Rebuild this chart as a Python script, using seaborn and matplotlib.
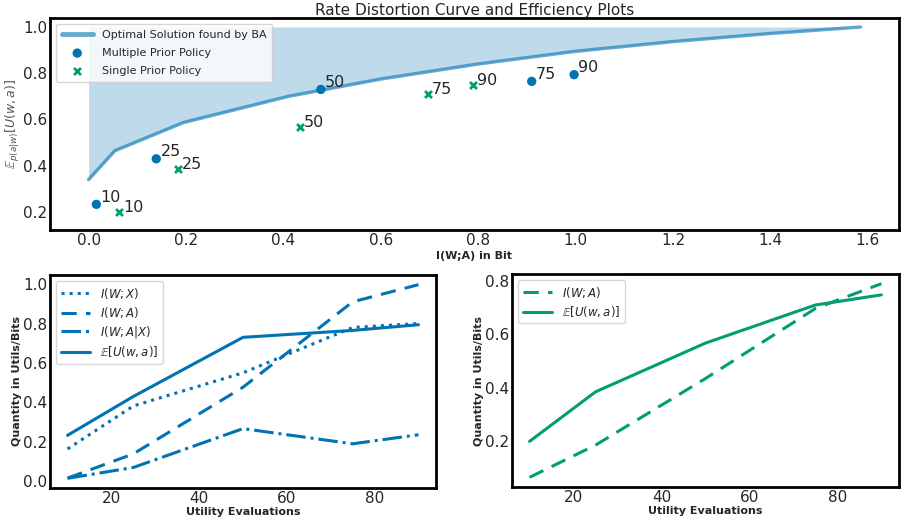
import numpy as np
import pandas as pd
import matplotlib
matplotlib.use("Agg")
import matplotlib.pyplot as plt
import seaborn as sns

# Data
ba_rate = [0.0, 0.054, 0.195, 0.41, 0.6, 0.8, 1.0, 1.2, 1.4, 1.585]
ba_util = [0.34, 0.465, 0.587, 0.70, 0.775, 0.84, 0.895, 0.937, 0.972, 1.0]

evals = [10, 25, 50, 75, 90]

# multiple prior policy
mp_iwa = [0.016, 0.139, 0.477, 0.910, 0.997]
mp_util = [0.233, 0.430, 0.730, 0.765, 0.794]
mp_iwx = [0.164, 0.382, 0.550, 0.780, 0.800]
mp_iwax = [0.015, 0.070, 0.267, 0.190, 0.236]

# single prior policy
sp_iwa = [0.063, 0.184, 0.434, 0.697, 0.790]
sp_util = [0.198, 0.384, 0.567, 0.710, 0.748]

sns.set_style("white")
plt.rcParams['font.family'] = ['DejaVu Sans']
plt.rcParams['mathtext.fontset'] = 'dejavusans'

blue = "#0173b2"
green = "#029e73"

fig = plt.figure(figsize=(9.01, 5.25), dpi=100)
W, H = 901, 525
ax_top = fig.add_axes([50 / W, 1 - 230 / H, 849 / W, 212 / H])
ax_l = fig.add_axes([50 / W, 1 - 488 / H, 386 / W, 213 / H])
ax_r = fig.add_axes([512 / W, 1 - 487 / H, 387 / W, 213 / H])

# --- top: rate distortion curve ---
ax_top.fill_between(ba_rate, ba_util, 1.0, color=blue, alpha=0.25, linewidth=0)
sns.lineplot(x=ba_rate, y=ba_util, ax=ax_top, color=blue, alpha=0.6, linewidth=2.5,
             label="Optimal Solution found by BA")
sns.scatterplot(x=mp_iwa, y=mp_util, ax=ax_top, color=blue, marker="o", s=45,
                edgecolor="none", label="Multiple Prior Policy")
sns.scatterplot(x=sp_iwa, y=sp_util, ax=ax_top, color=green, marker="x", s=25,
                linewidth=2, label="Single Prior Policy")
for n, x, y in zip(evals, mp_iwa, mp_util):
    ax_top.annotate(str(n), (x, y), xytext=(3, 2), textcoords="offset points", fontsize=11.5)
for n, x, y in zip(evals, sp_iwa, sp_util):
    ax_top.annotate(str(n), (x, y), xytext=(3, 0), textcoords="offset points", fontsize=11.5)
ax_top.set_ylim(0.122, 1.039)
ax_top.set_xticks([0.0, 0.2, 0.4, 0.6, 0.8, 1.0, 1.2, 1.4, 1.6])
ax_top.set_yticks([0.2, 0.4, 0.6, 0.8, 1.0])
ax_top.set_title("Rate Distortion Curve and Efficiency Plots", fontsize=11, pad=2)
ax_top.set_xlabel("I(W;A) in Bit", fontsize=8, fontweight="bold", labelpad=2)
ax_top.set_ylabel(r"$\mathbb{E}_{p(a|w)}[U(w,a)]$", fontsize=9, color="#555555", labelpad=1)
leg = ax_top.legend(loc="upper left", fontsize=8, frameon=True, borderpad=0.55,
                    handlelength=2.8, labelspacing=0.75)
leg.get_lines()[0].set_linewidth(3.5)

# --- bottom left: multiple prior ---
sns.lineplot(x=evals, y=mp_iwx, ax=ax_l, color=blue, linestyle=":", linewidth=2.2, label=r"$I(W;X)$")
sns.lineplot(x=evals, y=mp_iwa, ax=ax_l, color=blue, linestyle=(0, (5, 3)), linewidth=2.2, label=r"$I(W;A)$")
sns.lineplot(x=evals, y=mp_iwax, ax=ax_l, color=blue, linestyle="-.", linewidth=2.2, label=r"$I(W;A|X)$")
sns.lineplot(x=evals, y=mp_util, ax=ax_l, color=blue, linestyle="-", linewidth=2.2, label=r"$\mathbb{E}[U(w,a)]$")
ax_l.set_yticks([0.0, 0.2, 0.4, 0.6, 0.8, 1.0])

# --- bottom right: single prior ---
sns.lineplot(x=evals, y=sp_iwa, ax=ax_r, color=green, linestyle=(0, (5, 3)), linewidth=2.2, label=r"$I(W;A)$")
sns.lineplot(x=evals, y=sp_util, ax=ax_r, color=green, linestyle="-", linewidth=2.2, label=r"$\mathbb{E}[U(w,a)]$")
ax_r.set_yticks([0.2, 0.4, 0.6, 0.8])

for ax in (ax_l, ax_r):
    ax.set_xticks([20, 40, 60, 80])
    ax.set_xlabel("Utility Evaluations", fontsize=8, fontweight="bold", labelpad=1)
    ax.set_ylabel("Quantity in Utils/Bits", fontsize=8, fontweight="bold", labelpad=1)
    ax.legend(loc="upper left", fontsize=8.5, handlelength=2.5, labelspacing=0.35, borderpad=0.4)

for ax in (ax_top, ax_l, ax_r):
    ax.tick_params(labelsize=11, length=0, pad=2)
    for sp in ax.spines.values():
        sp.set_color("black")
        sp.set_linewidth(2)

fig.savefig("out.png", dpi=100)
